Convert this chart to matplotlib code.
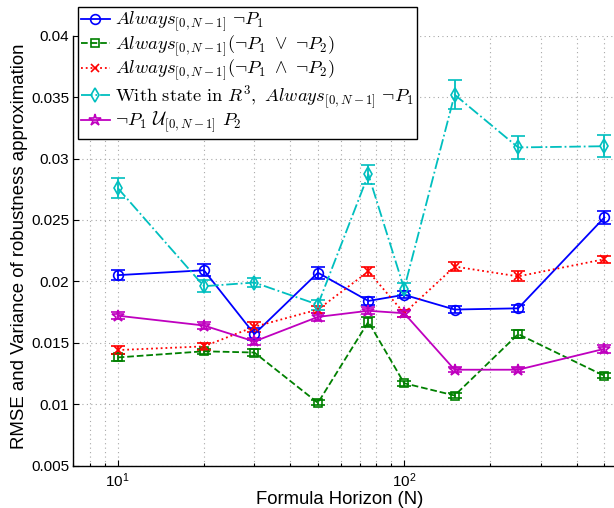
import matplotlib
matplotlib.use("Agg")
import matplotlib.pyplot as plt
import numpy as np
from matplotlib.ticker import LogLocator, FixedLocator, NullFormatter

plt.rcParams['font.family'] = ['Liberation Sans', 'DejaVu Sans']
plt.rcParams['mathtext.fontset'] = 'cm'

horizon = [10, 20, 30, 50, 75, 100, 150, 250, 500]

always_p1 = [0.0205, 0.0209, 0.0157, 0.0207, 0.0184, 0.0189, 0.0177, 0.0178, 0.0252]
always_p1_err = [0.0004, 0.0005, 0.0005, 0.0005, 0.0003, 0.0003, 0.0003, 0.0003, 0.0005]

always_or = [0.0138, 0.0143, 0.0142, 0.0101, 0.0167, 0.0117, 0.0107, 0.0157, 0.0123]
always_or_err = [0.0003, 0.0002, 0.0003, 0.0002, 0.0004, 0.0002, 0.0002, 0.0003, 0.0002]

always_and = [0.0144, 0.0147, 0.0163, 0.0177, 0.0208, 0.0174, 0.0212, 0.0204, 0.0218]
always_and_err = [0.0003, 0.0003, 0.0004, 0.0003, 0.0004, 0.0003, 0.0004, 0.0004, 0.0003]

state_r3 = [0.0276, 0.0196, 0.0199, 0.0181, 0.0287, 0.0194, 0.0352, 0.0309, 0.0310]
state_r3_err = [0.0008, 0.0005, 0.0004, 0.0004, 0.0008, 0.0005, 0.0012, 0.0009, 0.0009]

until = [0.0172, 0.0164, 0.0151, 0.0171, 0.0176, 0.0174, 0.0128, 0.0128, 0.0145]
until_err = [0.0003, 0.0003, 0.0003, 0.0003, 0.0003, 0.0003, 0.0002, 0.0002, 0.0003]

labels = [
    r'$Always_{[0,N-1]}\ \neg P_1$',
    r'$Always_{[0,N-1]}(\neg P_1\ \vee\ \neg P_2)$',
    r'$Always_{[0,N-1]}(\neg P_1\ \wedge\ \neg P_2)$',
    r'$\mathrm{With\ state\ in}\ R^3,\ Always_{[0,N-1]}\ \neg P_1$',
    r'$\neg P_1\ \mathcal{U}_{[0,N-1]}\ P_2$',
]

series = [
    (always_p1, always_p1_err, (0, 0, 1), '-', 'o', 7),
    (always_or, always_or_err, (0, 0.5, 0), '--', 's', 5.5),
    (always_and, always_and_err, (1, 0, 0), ':', 'x', 6),
    (state_r3, state_r3_err, (0, 0.75, 0.75), '-.', 'd', 7),
    (until, until_err, (0.75, 0, 0.75), '-', '*', 9),
]

fig = plt.figure(figsize=(6.14, 5.08), dpi=100)
W, H = 614, 508
left_px, right_px, top_px, bot_px = 73.3, 614, 35.7, 465.5
ax = fig.add_axes([left_px / W, 1 - bot_px / H, (right_px - left_px) / W, (bot_px - top_px) / H])

handles = []
for (vals, errs, col, ls, mk, ms), lab in zip(series, labels):
    c = ax.errorbar(horizon, vals, yerr=errs, color=col, linestyle=ls, marker=mk,
                    markersize=ms, markerfacecolor='none', markeredgecolor=col,
                    markeredgewidth=1.2, linewidth=1.3, elinewidth=1.3,
                    capsize=5, capthick=1.3, label=lab)
    for lc in c[2]:
        lc.set_linestyle('solid')
    handles.append(c[0])

ax.set_xscale('log')
ax.set_xlim(7, 10 ** ((614 - 404.3) / 286.3 + 2))
ax.set_ylim(0.005, 0.04)
ax.set_yticks(np.arange(0.005, 0.0401, 0.005))
ax.set_yticklabels(['0.005', '0.01', '0.015', '0.02', '0.025', '0.03', '0.035', '0.04'])
ax.xaxis.set_major_locator(FixedLocator([10, 100]))
ax.xaxis.set_minor_locator(LogLocator(base=10, subs=np.arange(2, 10)))
ax.xaxis.set_minor_formatter(NullFormatter())
ax.set_xticklabels([r'$\mathregular{10^1}$', r'$\mathregular{10^2}$'])

ax.spines['top'].set_visible(False)
ax.spines['right'].set_visible(False)
for s in ['left', 'bottom']:
    ax.spines[s].set_linewidth(1.0)

ax.tick_params(axis='both', which='both', direction='in', labelsize=11, width=0.8)
ax.tick_params(axis='both', which='major', length=4)
ax.tick_params(axis='x', which='minor', length=2.5)
ax.tick_params(axis='y', pad=3)
ax.tick_params(axis='x', pad=4)

grid_kw = dict(linestyle=(0, (1, 3)), color='#a8a8a8', linewidth=0.8)
ax.grid(True, which='major', axis='both', **grid_kw)
ax.grid(True, which='minor', axis='x', **grid_kw)
ax.set_axisbelow(True)

ax.set_xlabel('Formula Horizon (N)', fontsize=13.3)
ax.xaxis.set_label_coords((340 - left_px) / (right_px - left_px), (bot_px - 491) / (bot_px - top_px))
ax.set_ylabel('RMSE and Variance of robustness approximation', fontsize=13.4)
ax.yaxis.set_label_coords((28 - left_px) / (right_px - left_px), 0.51)

leg = fig.legend(handles=handles, labels=labels, loc='upper left',
                 bbox_to_anchor=(77.7 / W, 1 - 6.7 / H), bbox_transform=fig.transFigure,
                 fontsize=13.3, frameon=True, fancybox=False, edgecolor='black',
                 framealpha=1, borderpad=0.18, labelspacing=-0.03, handlelength=1.55,
                 handletextpad=0.3, borderaxespad=0)
leg.get_frame().set_linewidth(1.0)

fig.savefig('out.png', dpi=100)
